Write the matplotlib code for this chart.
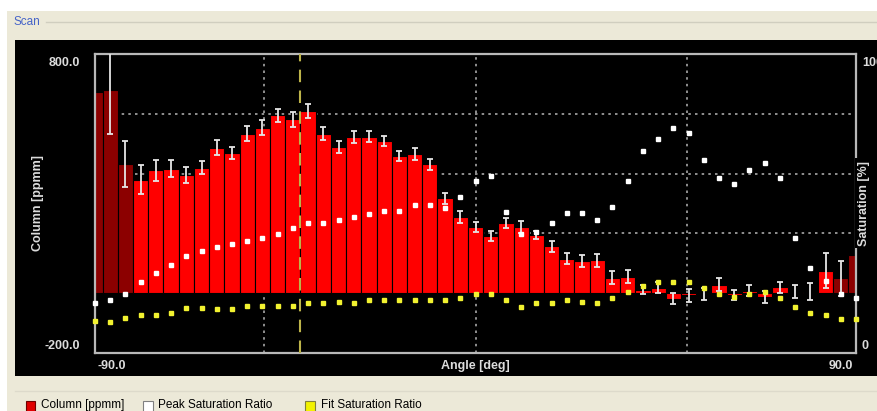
import matplotlib
matplotlib.use('Agg')
import matplotlib.pyplot as plt
from matplotlib.patches import Rectangle
import numpy as np

# scan angles (deg), one bar per step
angles = [-90.0, -86.4, -82.8, -79.2, -75.6, -72.0, -68.4, -64.8, -61.2, -57.6,
          -54.0, -50.4, -46.8, -43.2, -39.6, -36.0, -32.4, -28.8, -25.2, -21.6,
          -18.0, -14.4, -10.8, -7.2, -3.6, 0.0, 3.6, 7.2, 10.8, 14.4,
          18.0, 21.6, 25.2, 28.8, 32.4, 36.0, 39.6, 43.2, 46.8, 50.4,
          54.0, 57.6, 61.2, 64.8, 68.4, 72.0, 75.6, 79.2, 82.8, 86.4, 90.0]

column = [673, 681, 431, 380, 411, 417, 395, 420, 487, 469,
          534, 554, 595, 582, 610, 534, 489, 523, 523, 509,
          458, 465, 431, 317, 255, 222, 191, 235, 220, 194,
          157, 116, 108, 110, 52, 55, 12, 19, -18, -7,
          -3, 29, -5, 8, -12, 20, 5, 5, 75, 50, 127]

column_err = [np.nan, 147, 77, 48, 36, 28, 26, 22, 25, 21,
              25, 26, 22, 25, 24, 22, 21, 20, 18, 18,
              17, 21, 18, 18, 19, 16, 17, 16, 20, 13,
              18, 18, 20, 21, 21, 21, 15, 20, 18, 22,
              20, 21, 17, 18, 21, 19, 21, 29, 58, 58, np.nan]

valid = [False, False, False] + [True] * 46 + [False, False]

peak_sat = [16.8, 17.7, 19.6, 23.6, 26.6, 29.4, 32.5, 34.2, 35.6, 36.5,
            37.6, 38.4, 39.7, 41.7, 43.4, 43.4, 44.6, 45.4, 46.6, 47.4,
            47.4, 49.5, 49.5, 48.6, 52.3, 57.6, 59.3, 47.3, 39.7, 40.6,
            43.4, 46.7, 46.7, 44.5, 48.7, 57.6, 67.6, 71.6, 75.3, 73.6,
            64.7, 58.5, 56.4, 61.3, 63.4, 58.5, 38.5, 28.5, 24.2, 19.7, 18.5]

fit_sat = [10.7, 10.5, 11.6, 12.7, 12.7, 13.5, 14.9, 14.9, 14.8, 14.8,
           15.6, 15.7, 15.6, 15.7, 16.8, 16.8, 16.9, 16.8, 17.7, 17.7,
           17.7, 17.7, 17.7, 17.7, 18.5, 19.6, 19.6, 17.7, 15.5, 16.8,
           16.8, 17.7, 17.2, 16.8, 18.4, 20.5, 22.5, 23.7, 23.7, 23.7,
           21.6, 19.6, 18.8, 19.7, 20.5, 18.5, 15.5, 13.5, 12.7, 11.5, 11.5]

marker_angle = -41.4

W, H = 877, 411
def fx(px):
    return px / W
def fy(py):
    return 1 - py / H

plt.rcParams['font.family'] = ['Liberation Sans', 'DejaVu Sans']

fig = plt.figure(figsize=(W / 100, H / 100), dpi=100, facecolor='#ECE9D8')

# window chrome, kept under the axes
def box(x0, y0, x1, y1, **kw):
    kw.setdefault('zorder', -5)
    fig.add_artist(Rectangle((fx(x0), fy(y1)), fx(x1) - fx(x0), fy(y0) - fy(y1),
                             transform=fig.transFigure, **kw))

box(0, 0, W, 11, facecolor='white', edgecolor='none')
box(0, 0, 7, H, facecolor='white', edgecolor='none')
fig.add_artist(plt.Line2D([fx(46), 1], [fy(22), fy(22)], transform=fig.transFigure,
                          color='#D0CEBF', lw=1, zorder=-4))
fig.add_artist(plt.Line2D([fx(15), 1], [fy(391), fy(391)], transform=fig.transFigure,
                          color='#DDDACB', lw=1, zorder=-4))
fig.text(fx(13), fy(22), 'Scan', color='#4563C8', fontsize=8.5, va='center')
box(15, 40, W + 2, 376, facecolor='black', edgecolor='none')

ax = fig.add_axes([fx(95), fy(353), fx(856) - fx(95), fy(54) - fy(353)])
ax.set_facecolor('black')
ax.set_xlim(-90, 90)
ax.set_ylim(-200, 800)

for g in [200, 400, 600]:
    ax.axhline(g, color='#A8A8A8', ls=(0, (1.5, 2.5)), lw=1.2, zorder=1)
for g in [-50, 0, 50]:
    ax.axvline(g, color='#A8A8A8', ls=(0, (1.5, 2.5)), lw=1.2, zorder=1)

bar_colors = ['#FF0000' if v else '#8C0000' for v in valid]
ax.bar(angles, column, width=3.6, color=bar_colors, edgecolor='black', lw=0.8, zorder=2)
ax.errorbar(angles, column, yerr=column_err, fmt='none', ecolor='#E6E6E6',
            elinewidth=1.3, capsize=2.5, capthick=1.3, zorder=3)
ax.axvline(marker_angle, color='#BDB44A', ls=(0, (6, 4)), lw=1.5, zorder=4)

ax.set_xticks([])
ax.set_yticks([])
for s in ax.spines.values():
    s.set_color('#B8B8B8')
    s.set_linewidth(1.6)

ax2 = ax.twinx()
ax2.set_ylim(0, 100)
ax2.plot(angles, peak_sat, 's', color='white', ms=3.3, mec='white', zorder=5, clip_on=False)
ax2.plot(angles, fit_sat, 's', color='#F2F230', ms=3.3, mec='#F2F230', zorder=5, clip_on=False)
ax2.set_yticks([])
for s in ax2.spines.values():
    s.set_visible(False)

# axis texts
lab = dict(color='#DCDCDC', fontsize=9, fontweight='bold')
fig.text(fx(80), fy(63), '800.0', ha='right', va='center', **lab)
fig.text(fx(80), fy(346), '-200.0', ha='right', va='center', **lab)
fig.text(fx(97), fy(366), '-90.0', ha='left', va='center', **lab)
fig.text(fx(853), fy(366), '90.0', ha='right', va='center', **lab)
fig.text(fx(475), fy(366), 'Angle [deg]', ha='center', va='center', **lab)
fig.text(fx(38), fy(203), 'Column [ppmm]', ha='center', va='center', rotation=90, **lab)
fig.text(fx(862), fy(63), '100', ha='left', va='center', **lab)
fig.text(fx(862), fy(346), '0', ha='left', va='center', **lab)
fig.text(fx(864), fy(203), 'Saturation [%]', ha='center', va='center', rotation=90,
         bbox=dict(facecolor='black', edgecolor='none', pad=2), zorder=6, **lab)

# legend strip
leg = dict(color='black', fontsize=8.5, va='top')
box(26, 401, 35, 413, facecolor='#E00000', edgecolor='#700000', lw=0.8, zorder=1)
fig.text(fx(41), fy(399), 'Column [ppmm]', **leg)
box(143, 401, 153, 413, facecolor='white', edgecolor='#808080', lw=0.8, zorder=1)
fig.text(fx(158), fy(399), 'Peak Saturation Ratio', **leg)
box(305, 401, 315, 413, facecolor='#F2F200', edgecolor='#808040', lw=0.8, zorder=1)
fig.text(fx(321), fy(399), 'Fit Saturation Ratio', **leg)

fig.savefig('out.png', dpi=100, facecolor=fig.get_facecolor())
